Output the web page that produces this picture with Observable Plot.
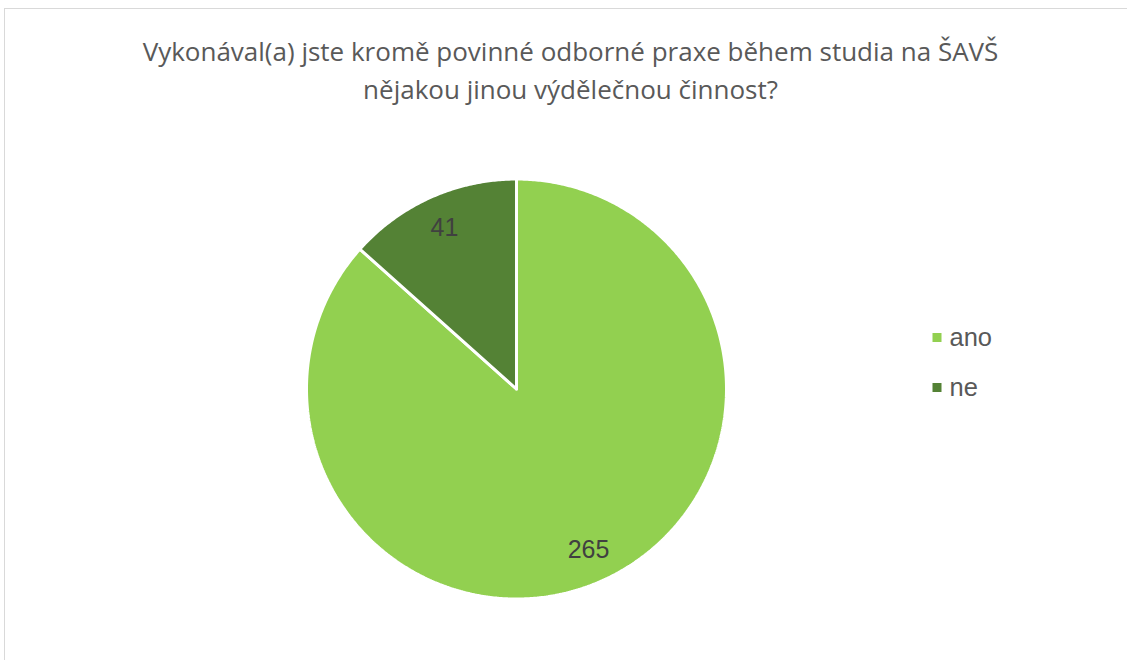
<!DOCTYPE html>
<html>
<head>
<meta charset="utf-8">
<script src="https://cdn.jsdelivr.net/npm/d3@7"></script>
<script src="https://cdn.jsdelivr.net/npm/@observablehq/plot@0.6"></script>
<style>
  html, body { margin: 0; padding: 0; background: #fff; overflow: hidden; }
  #wrap { position: relative; width: 1127px; height: 660px; }
  #frame { position: absolute; left: 4px; top: 8px; width: 1300px; height: 800px; border: 1.5px solid #d9d9d9; box-sizing: border-box; }
  #chart { position: absolute; left: 0; top: 0; }
</style>
</head>
<body>
<div id="wrap"><div id="frame"></div><div id="chart"></div></div>
<script>
// ---- data ----
const categories = ["ano", "ne"];
const values = [265, 41];
const colors = ["#92D050", "#548235"];
const titleText = "Vykonával(a) jste kromě povinné odborné praxe během studia na ŠAVŠ\nnějakou jinou výdělečnou činnost?";

// ---- layout ----
const W = 1127, H = 660;
const cx = 516, cy = 388.5, R = 210;
const labelR = 0.84;

const total = d3.sum(values);
let acc = 0;
const slices = categories.map((c, i) => {
  const a0 = acc / total * 2 * Math.PI;
  acc += values[i];
  const a1 = acc / total * 2 * Math.PI;
  return {category: c, value: values[i], color: colors[i], a0, a1};
});

function slicePoints(s) {
  const pts = [{x: cx, y: cy}];
  const n = Math.max(2, Math.ceil((s.a1 - s.a0) / (Math.PI / 360)));
  for (let k = 0; k <= n; k++) {
    const a = s.a0 + (s.a1 - s.a0) * k / n;
    pts.push({x: cx + R * Math.sin(a), y: cy - R * Math.cos(a)});
  }
  pts.push({x: cx, y: cy});
  return pts;
}

const labels = slices.map(s => {
  const m = (s.a0 + s.a1) / 2;
  return {text: String(s.value), x: cx + R * labelR * Math.sin(m), y: cy - R * labelR * Math.cos(m)};
});

const legendX = 936.5, legendY0 = 337, legendStep = 50;
const legend = slices.map((s, i) => ({category: s.category, color: s.color, x: legendX, y: legendY0 + i * legendStep}));

const titleSize = 26;
const marks = [];
for (const s of slices) {
  marks.push(Plot.line(slicePoints(s), {x: "x", y: "y", fill: s.color, stroke: "#ffffff", strokeWidth: 3, strokeLinejoin: "miter"}));
}
marks.push(Plot.text(labels, {x: "x", y: "y", text: "text", fill: "#404040", fontSize: 25, fontFamily: "Liberation Sans, Arial, sans-serif", textAnchor: "middle", lineAnchor: "middle"}));
marks.push(Plot.dot(legend, {x: "x", y: "y", fill: "color", symbol: "square", r: 5.08, stroke: null}));
marks.push(Plot.text(legend, {x: "x", y: "y", text: "category", dx: 12.5, fill: "#595959", fontSize: 25.5, fontFamily: "Liberation Sans, Arial, sans-serif", textAnchor: "start", lineAnchor: "middle"}));
marks.push(Plot.text([titleText], {frameAnchor: "top", dx: 6.5, dy: 67, text: d => d, fill: "#595959", fontSize: titleSize, fontFamily: "Open Sans, sans-serif", textAnchor: "middle", lineAnchor: "middle", lineHeight: 38 / titleSize}));

const chart = Plot.plot({
  width: W,
  height: H,
  margin: 0,
  x: {domain: [0, W], range: [0, W], axis: null},
  y: {domain: [0, H], range: [0, H], axis: null},
  color: {type: "identity"},
  style: {background: "transparent", overflow: "visible"},
  marks
});
document.getElementById("chart").appendChild(chart);
</script>
</body>
</html>
